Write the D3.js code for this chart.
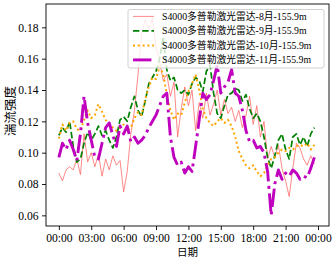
<!DOCTYPE html>
<html>
<head>
<meta charset="utf-8">
<script src="https://cdn.jsdelivr.net/npm/d3@7"></script>
<style>
body { margin: 0; background: #fff; }
svg text { font-family: "Liberation Serif", "Noto Sans CJK SC", serif; fill: #000; }
</style>
</head>
<body>
<svg id="chart" width="332" height="258"></svg>
<script>
// 20 minute samples, 00:00 .. 23:40
const stepMinutes = 20;
const labels = ["S4000多普勒激光雷达-8月-155.9m", "S4000多普勒激光雷达-9月-155.9m",
                "S4000多普勒激光雷达-10月-155.9m", "S4000多普勒激光雷达-11月-155.9m"];

const aug = [0.087,0.082,0.089,0.091,0.089,0.096,0.086,0.112,0.094,0.100,0.091,0.099,
             0.085,0.096,0.089,0.098,0.092,0.095,0.075,0.088,0.112,0.127,0.150,0.176,
             0.185,0.179,0.186,0.168,0.158,0.146,0.150,0.136,0.145,0.110,0.128,0.142,
             0.130,0.140,0.114,0.132,0.122,0.138,0.124,0.131,0.140,0.124,0.134,0.125,
             0.129,0.120,0.127,0.116,0.124,0.136,0.118,0.130,0.110,0.120,0.096,0.104,
             0.097,0.105,0.090,0.082,0.072,0.090,0.106,0.103,0.096,0.092,0.098,0.093];

const sep = [0.111,0.116,0.113,0.120,0.104,0.094,0.096,0.106,0.113,0.108,0.112,0.117,
             0.111,0.114,0.108,0.103,0.110,0.121,0.123,0.120,0.129,0.136,0.127,0.123,
             0.133,0.144,0.148,0.152,0.160,0.174,0.153,0.146,0.148,0.140,0.138,0.140,
             0.137,0.144,0.148,0.146,0.139,0.152,0.156,0.138,0.125,0.122,0.130,0.137,
             0.138,0.141,0.140,0.133,0.137,0.128,0.122,0.125,0.120,0.110,0.097,0.090,
             0.098,0.108,0.112,0.102,0.096,0.110,0.112,0.105,0.110,0.104,0.112,0.116];

const oct = [0.109,0.118,0.114,0.119,0.120,0.115,0.114,0.121,0.127,0.122,0.124,0.131,
             0.126,0.121,0.118,0.116,0.114,0.116,0.118,0.114,0.116,0.122,0.126,0.124,
             0.134,0.142,0.148,0.147,0.155,0.150,0.137,0.127,0.121,0.125,0.124,0.132,
             0.139,0.144,0.150,0.140,0.128,0.122,0.119,0.117,0.120,0.122,0.119,0.121,
             0.117,0.110,0.101,0.096,0.092,0.090,0.092,0.088,0.085,0.087,0.092,0.096,
             0.097,0.100,0.102,0.101,0.103,0.102,0.104,0.105,0.104,0.106,0.102,0.105];

const nov = [0.097,0.106,0.102,0.108,0.102,0.095,0.112,0.136,0.119,0.108,0.097,0.096,
             0.106,0.116,0.119,0.111,0.104,0.117,0.112,0.117,0.107,0.110,0.106,0.108,
             0.111,0.116,0.120,0.124,0.130,0.136,0.138,0.110,0.097,0.092,0.094,0.087,
             0.091,0.088,0.104,0.121,0.138,0.134,0.137,0.146,0.156,0.138,0.142,0.145,
             0.153,0.138,0.136,0.127,0.114,0.107,0.108,0.103,0.104,0.100,0.088,0.060,
             0.080,0.089,0.083,0.087,0.085,0.089,0.087,0.083,0.085,0.084,0.090,0.097];

const tickHours = [0, 3, 6, 9, 12, 15, 18, 21, 24];
const tickLabels = ["00:00", "03:00", "06:00", "09:00", "12:00", "15:00", "18:00", "21:00", "00:00"];
const yTicks = [0.06, 0.08, 0.10, 0.12, 0.14, 0.16, 0.18];

const series = [
    {name: labels[0], values: aug, color: "#ff6464", width: 0.9, dash: null, opacity: 0.85},
    {name: labels[1], values: sep, color: "#008000", width: 1.7, dash: "6.4,2.8", opacity: 1},
    {name: labels[2], values: oct, color: "#ffa500", width: 2, dash: "2,2.8", opacity: 1},
    {name: labels[3], values: nov, color: "#bf00bf", width: 2.9, dash: "18.4,4.6,2.9,4.6", opacity: 1}
];

const plot = {left: 46, right: 329, top: 4, bottom: 226};

const x = d3.scaleLinear()
            .domain([-1.19, 25.02])
            .range([plot.left, plot.right]);

const y = d3.scaleLinear()
            .domain([0.0532, 0.1949])
            .range([plot.bottom, plot.top]);

const svg = d3.select("#chart");

svg.append("clipPath")
    .attr("id", "clip")
    .append("rect")
    .attr("x", plot.left)
    .attr("y", plot.top)
    .attr("width", plot.right - plot.left)
    .attr("height", plot.bottom - plot.top);

const line = d3.line()
                .x((d, i) => x(i * stepMinutes / 60))
                .y(d => y(d));

svg.append("g")
    .attr("clip-path", "url(#clip)")
    .selectAll("path")
    .data(series)
    .enter()
    .append("path")
    .attr("d", d => line(d.values))
    .attr("fill", "none")
    .attr("stroke", d => d.color)
    .attr("stroke-width", d => d.width)
    .attr("stroke-dasharray", d => d.dash)
    .attr("stroke-opacity", d => d.opacity)
    .attr("stroke-linejoin", "round");

// axes
const xAxis = svg.append("g")
    .attr("transform", `translate(0,${plot.bottom})`)
    .call(d3.axisBottom(x)
            .tickValues(tickHours)
            .tickFormat((d, i) => tickLabels[i])
            .tickSize(4)
            .tickPadding(3.5));

const yAxis = svg.append("g")
    .attr("transform", `translate(${plot.left},0)`)
    .call(d3.axisLeft(y)
            .tickValues(yTicks)
            .tickFormat(d3.format(".2f"))
            .tickSize(4)
            .tickPadding(3.5));

[xAxis, yAxis].forEach(g => {
    g.select(".domain").remove();
    g.selectAll("line").attr("stroke", "#000").attr("stroke-width", 0.9);
    g.selectAll("text").attr("font-size", 11.6).attr("font-family", null).attr("fill", "#000");
});

svg.append("rect")
    .attr("x", plot.left)
    .attr("y", plot.top)
    .attr("width", plot.right - plot.left)
    .attr("height", plot.bottom - plot.top)
    .attr("fill", "none")
    .attr("stroke", "#000")
    .attr("stroke-width", 0.9);

// axis titles
svg.append("text")
    .attr("x", (plot.left + plot.right) / 2)
    .attr("y", 256)
    .attr("text-anchor", "middle")
    .attr("font-size", 10.5)
    .text("日期");

svg.append("text")
    .attr("transform", `translate(15,111) rotate(-90)`)
    .attr("text-anchor", "middle")
    .attr("font-size", 12.5)
    .text("湍流强度");

// legend
const legend = svg.append("g");

legend.append("rect")
    .attr("x", 128)
    .attr("y", 9.5)
    .attr("width", 196)
    .attr("height", 58.5)
    .attr("rx", 2)
    .attr("fill", "#fff")
    .attr("fill-opacity", 0.8)
    .attr("stroke", "#cccccc")
    .attr("stroke-width", 0.9);

const items = legend.selectAll(".item")
    .data(series)
    .enter()
    .append("g")
    .attr("class", "item")
    .attr("transform", (d, i) => `translate(0,${16.4 + i * 14.5})`);

items.append("line")
    .attr("x1", 133)
    .attr("x2", 154)
    .attr("stroke", d => d.color)
    .attr("stroke-width", d => d.width)
    .attr("stroke-dasharray", d => d.dash)
    .attr("stroke-opacity", d => d.opacity);

items.append("text")
    .attr("x", 162)
    .attr("dy", "0.35em")
    .attr("font-size", 9.8)
    .text(d => d.name);
</script>
</body>
</html>
